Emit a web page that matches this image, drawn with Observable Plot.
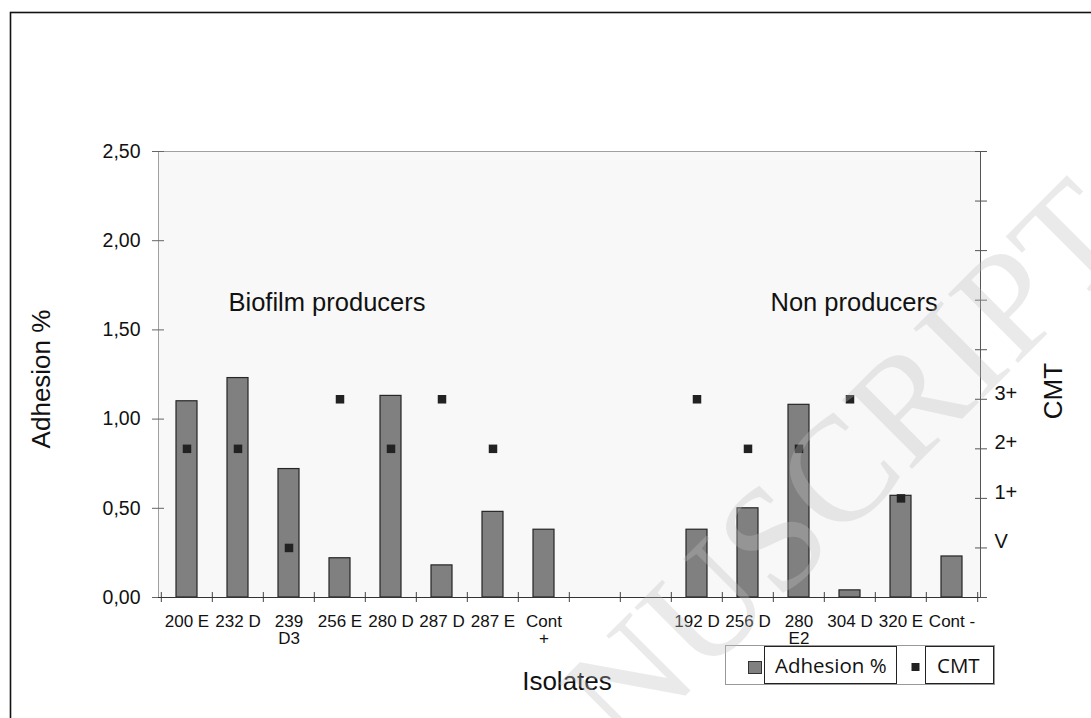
<!DOCTYPE html>
<html><head><meta charset="utf-8">
<script src="https://cdn.jsdelivr.net/npm/d3@7"></script>
<script src="https://cdn.jsdelivr.net/npm/@observablehq/plot@0.6"></script>
<style>body{margin:0;background:#fff;} svg{display:block}</style>
</head><body><div id="chart"></div>
<script>
// ---- data ----
const isolates = ["200 E","232 D","239 D3","256 E","280 D","287 D","287 E","Cont +"," ","  ","192 D","256 D","280 E2","304 D","320 E","Cont -"];
const adhesion = [1.10,1.23,0.72,0.22,1.13,0.18,0.48,0.38,null,null,0.38,0.50,1.08,0.04,0.57,0.23];
// CMT level: 1 = V, 2 = 1+, 3 = 2+, 4 = 3+
const cmt = [3,3,1,4,3,4,3,null,null,null,4,3,3,4,2,null];
const cmtTicks = [0,1,2,3,4,5,6,7,8,9];
const cmtLabels = ["","V","1+","2+","3+","","","","",""];
const adhesionTicks = [0,0.5,1,1.5,2,2.5];
const groupLabels = ["Biofilm producers","Non producers"];
const tickLabels = {"239 D3":"239\nD3","Cont +":"Cont\n+","280 E2":"280\nE2"};

const W=1091,H=718, mL=158, mR=111, mT=151, mB=121;
const yMax=2.5, cmtMax=9;
const cmtToY = k => k*yMax/cmtMax;
const step = (W-mL-mR)/isolates.length;

const rows = isolates.map((name,i)=>({name, adhesion: adhesion[i], cmt: cmt[i]}));
const cmtY = cmtTicks.map(cmtToY);

const chart = Plot.plot({
  width: W, height: H,
  marginLeft: mL, marginRight: mR, marginTop: mT, marginBottom: mB,
  style: {fontFamily: "'Liberation Sans', Arial, sans-serif", color: "#111", background: "transparent"},
  x: {type: "band", domain: isolates, paddingInner: 0.59, paddingOuter: 0.295, axis: null},
  y: {domain: [0, yMax], axis: null},
  marks: [
    Plot.frame({fill: "#f8f8f8", stroke: "#a0a0a0"}),
    // left axis
    Plot.axisY(adhesionTicks, {anchor: "left", tickSize: 12, dx: 6, fill: "none", stroke: "#666"}),
    Plot.axisY(adhesionTicks, {anchor: "left", tickSize: 0, tickPadding: 18, fontSize: 19.5, label: null,
      tickFormat: d => d.toFixed(2).replace(".", ",")}),
    // right (CMT) axis
    Plot.axisY(cmtY, {anchor: "right", tickSize: 12, dx: -6, fill: "none", stroke: "#555"}),
    Plot.axisY(cmtY, {anchor: "right", tickSize: 0, tickPadding: 14, dy: -6, fontSize: 20, label: null,
      tickFormat: d => cmtLabels[Math.round(d*cmtMax/yMax)]}),
    // bottom axis ticks at band boundaries
    Plot.axisX(isolates, {anchor: "bottom", tickSize: 10, dy: -5, dx: -step/2, fill: "none", stroke: "#444"}),
    Plot.axisX([isolates[isolates.length-1]], {anchor: "bottom", tickSize: 10, dy: -5, dx: step/2, fill: "none", stroke: "#444"}),
    Plot.axisX(isolates, {anchor: "bottom", tickSize: 0, tickPadding: 17, fontSize: 17, lineHeight: 1.0, label: null,
      tickFormat: d => tickLabels[d] ?? d}),
    // bars
    Plot.barY(rows.filter(d => d.adhesion != null), {x: "name", y: "adhesion", fill: "#808080", stroke: "#262626", strokeWidth: 1.2}),
    // CMT markers
    Plot.dot(rows.filter(d => d.cmt != null), {x: "name", y: d => cmtToY(d.cmt), symbol: "square", r: 4.8, fill: "#222", stroke: "none"}),
    Plot.ruleY([0], {stroke: "#333"}),
    Plot.frame({anchor: "right", stroke: "#555"}),
    // group labels
    Plot.text([groupLabels[0]], {frameAnchor: "top-left", dx: 70, dy: 159, textAnchor: "start", lineAnchor: "bottom", fontSize: 25.5, fill: "#111"}),
    Plot.text([groupLabels[1]], {frameAnchor: "top-left", dx: 612, dy: 159, textAnchor: "start", lineAnchor: "bottom", fontSize: 25.5, fill: "#111"})
  ]
});

const svg = d3.select(chart);
// axis titles
svg.append("text").attr("transform", "translate(50,379) rotate(-90)").attr("text-anchor", "middle")
  .attr("font-size", 26).attr("fill", "#111").text("Adhesion %");
svg.append("text").attr("x", 567).attr("y", 690).attr("text-anchor", "middle")
  .attr("font-size", 26).attr("fill", "#111").text("Isolates");
svg.append("text").attr("transform", "translate(1062,391) rotate(-90)").attr("text-anchor", "middle")
  .attr("font-size", 26).attr("fill", "#111").text("CMT");

// legend
const lg = svg.append("g").attr("text-anchor", "start");
lg.append("rect").attr("x", 725.5).attr("y", 645.5).attr("width", 269).attr("height", 39).attr("fill", "#fff").attr("stroke", "#999");
lg.append("rect").attr("x", 748.5).attr("y", 661.5).attr("width", 13).attr("height", 12).attr("fill", "#808080").attr("stroke", "#333");
lg.append("rect").attr("x", 764.5).attr("y", 646.5).attr("width", 132).attr("height", 37).attr("fill", "none").attr("stroke", "#222");
lg.append("text").attr("x", 775).attr("y", 673).attr("text-anchor", "start").attr("font-family", "'Open Sans', sans-serif").attr("font-size", 20.5).attr("fill", "#111").text("Adhesion %");
lg.append("rect").attr("x", 911.5).attr("y", 663).attr("width", 8).attr("height", 8).attr("fill", "#222");
lg.append("rect").attr("x", 925.5).attr("y", 646.5).attr("width", 68).attr("height", 37).attr("fill", "none").attr("stroke", "#222");
lg.append("text").attr("x", 937).attr("y", 673).attr("text-anchor", "start").attr("font-family", "'Open Sans', sans-serif").attr("font-size", 20.5).attr("fill", "#111").text("CMT");

// outer frame
svg.append("rect").attr("x", 10.5).attr("y", 12.5).attr("width", 1100).attr("height", 720)
  .attr("fill", "none").attr("stroke", "#111").attr("stroke-width", 1.6);

// watermark
svg.append("text").attr("transform", "translate(1138,243) rotate(-45)").attr("text-anchor", "end")
  .attr("font-family", "'Liberation Serif', serif").attr("font-size", 150)
  .attr("fill", "rgb(190,190,190)").attr("fill-opacity", 0.33).text("ACCEPTED MANUSCRIPT");

document.getElementById("chart").appendChild(chart);
</script>
</body></html>
